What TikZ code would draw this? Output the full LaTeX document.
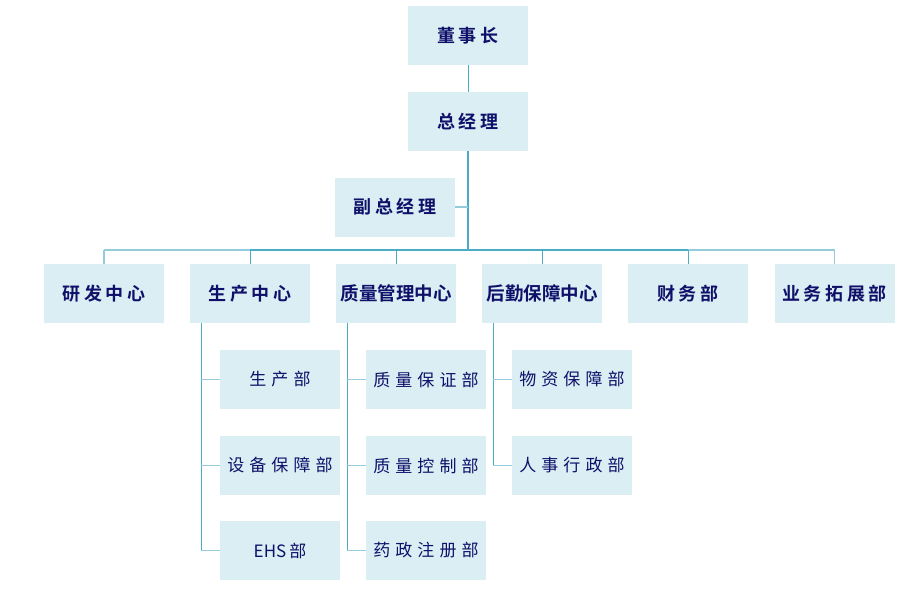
\documentclass[tikz,border=0pt]{standalone}
\usepackage{fontspec}
\setmainfont{Noto Sans CJK SC}[BoldFont={Noto Sans CJK SC Bold}]
\newfontfamily\headfont{Noto Sans CJK SC Bold}[LetterSpace=20]
\newfontfamily\headtight{Noto Sans CJK SC Bold}
\newfontfamily\subfont{Noto Sans CJK SC}[LetterSpace=30]
\newfontfamily\subtight{Noto Sans CJK SC}
\usepackage{xcolor}
\definecolor{boxBlue}{HTML}{DAEEF3}
\definecolor{inkNavy}{HTML}{10106A}
\definecolor{lineTeal}{HTML}{4BACC6}
\definecolor{lineLight}{HTML}{93CDDD}
\usepackage{tikz}

\begin{document}
\begin{tikzpicture}[x=1pt, y=-1pt,
    orgbox/.style={fill=boxBlue, minimum width=120pt, minimum height=59pt,
      inner sep=0pt, text=inkNavy},
    headbox/.style={orgbox, font=\headfont\fontsize{18}{21}\selectfont},
    widebox/.style={orgbox, font=\headtight\fontsize{18.5}{21}\selectfont},
    subbox/.style={orgbox, font=\subfont\fontsize{17}{20}\selectfont},
    tightsub/.style={orgbox, font=\subtight\fontsize{17}{20}\selectfont},
    thinlink/.style={lineTeal, line width=1pt},
    lightlink/.style={lineLight, line width=1.8pt},
    mainlink/.style={lineTeal, line width=2.2pt}]
  \useasboundingbox (0,0) rectangle (921,595);
  % ------- top of the chart -------
  \node[headbox] (ceo) at (468,35.5) {董事长};
  \node[headbox] (gm)  at (468,121.5) {总经理};
  \node[headbox] (vgm) at (395,207) {副总经理};
  \coordinate (bus) at (468,250);
  % ------- centres and departments -------
  \node[headbox] (rd)  at (104,293.5) {研发中心};
  \node[headbox] (pc)  at (250,293.5) {生产中心};
  \node[widebox] (qc)  at (396,293.5) {质量管理中心};
  \node[widebox] (lc)  at (542,293.5) {后勤保障中心};
  \node[headbox] (fin) at (688,293.5) {财务部};
  \node[headbox] (biz) at (834.5,293.5) {业务拓展部};
  % ------- sub departments -------
  \node[subbox] (pc1) at (280,379.5) {生产部};
  \node[subbox] (pc2) at (280,465.5) {设备保障部};
  \node[tightsub] (pc3) at (280,550.5) {EHS\hspace{3pt}部};
  \node[subbox] (qc1) at (426,379.5) {质量保证部};
  \node[subbox] (qc2) at (426,465.5) {质量控制部};
  \node[subbox] (qc3) at (426,550.5) {药政注册部};
  \node[subbox] (lc1) at (572,379.5) {物资保障部};
  \node[subbox] (lc2) at (572,465.5) {人事行政部};
  % spines of the sub departments
  \coordinate (pcs) at (201,323);
  \coordinate (qcs) at (347,323);
  \coordinate (lcs) at (493,323);
  % ------- connectors -------
  \draw[thinlink] (ceo.south) -- (gm.north);
  \draw[mainlink] (gm.south) -- (bus);
  \draw[lightlink] (vgm.east) -- (vgm.east -| gm.south);
  \draw[lightlink] (rd.north |- bus) -- (pc.north |- bus);
  \draw[mainlink] (pc.north |- bus) -- (fin.north |- bus);
  \draw[lightlink] (fin.north |- bus) -- (biz.north |- bus);
  \foreach \c in {rd,biz}
    \draw[lightlink] (\c.north |- bus) -- (\c.north);
  \foreach \c in {pc,qc,lc,fin}
    \draw[thinlink] (\c.north |- bus) -- (\c.north);
  \draw[thinlink] (pcs) |- (pc3.west);
  \draw[thinlink] (qcs) |- (qc3.west);
  \draw[thinlink] (lcs) |- (lc2.west);
  \foreach \s/\b in {pcs/pc1,pcs/pc2,pcs/pc3,qcs/qc1,qcs/qc2,qcs/qc3,lcs/lc1,lcs/lc2}
    \draw[lightlink] (\s |- \b.west) -- (\b.west);
\end{tikzpicture}
\end{document}
